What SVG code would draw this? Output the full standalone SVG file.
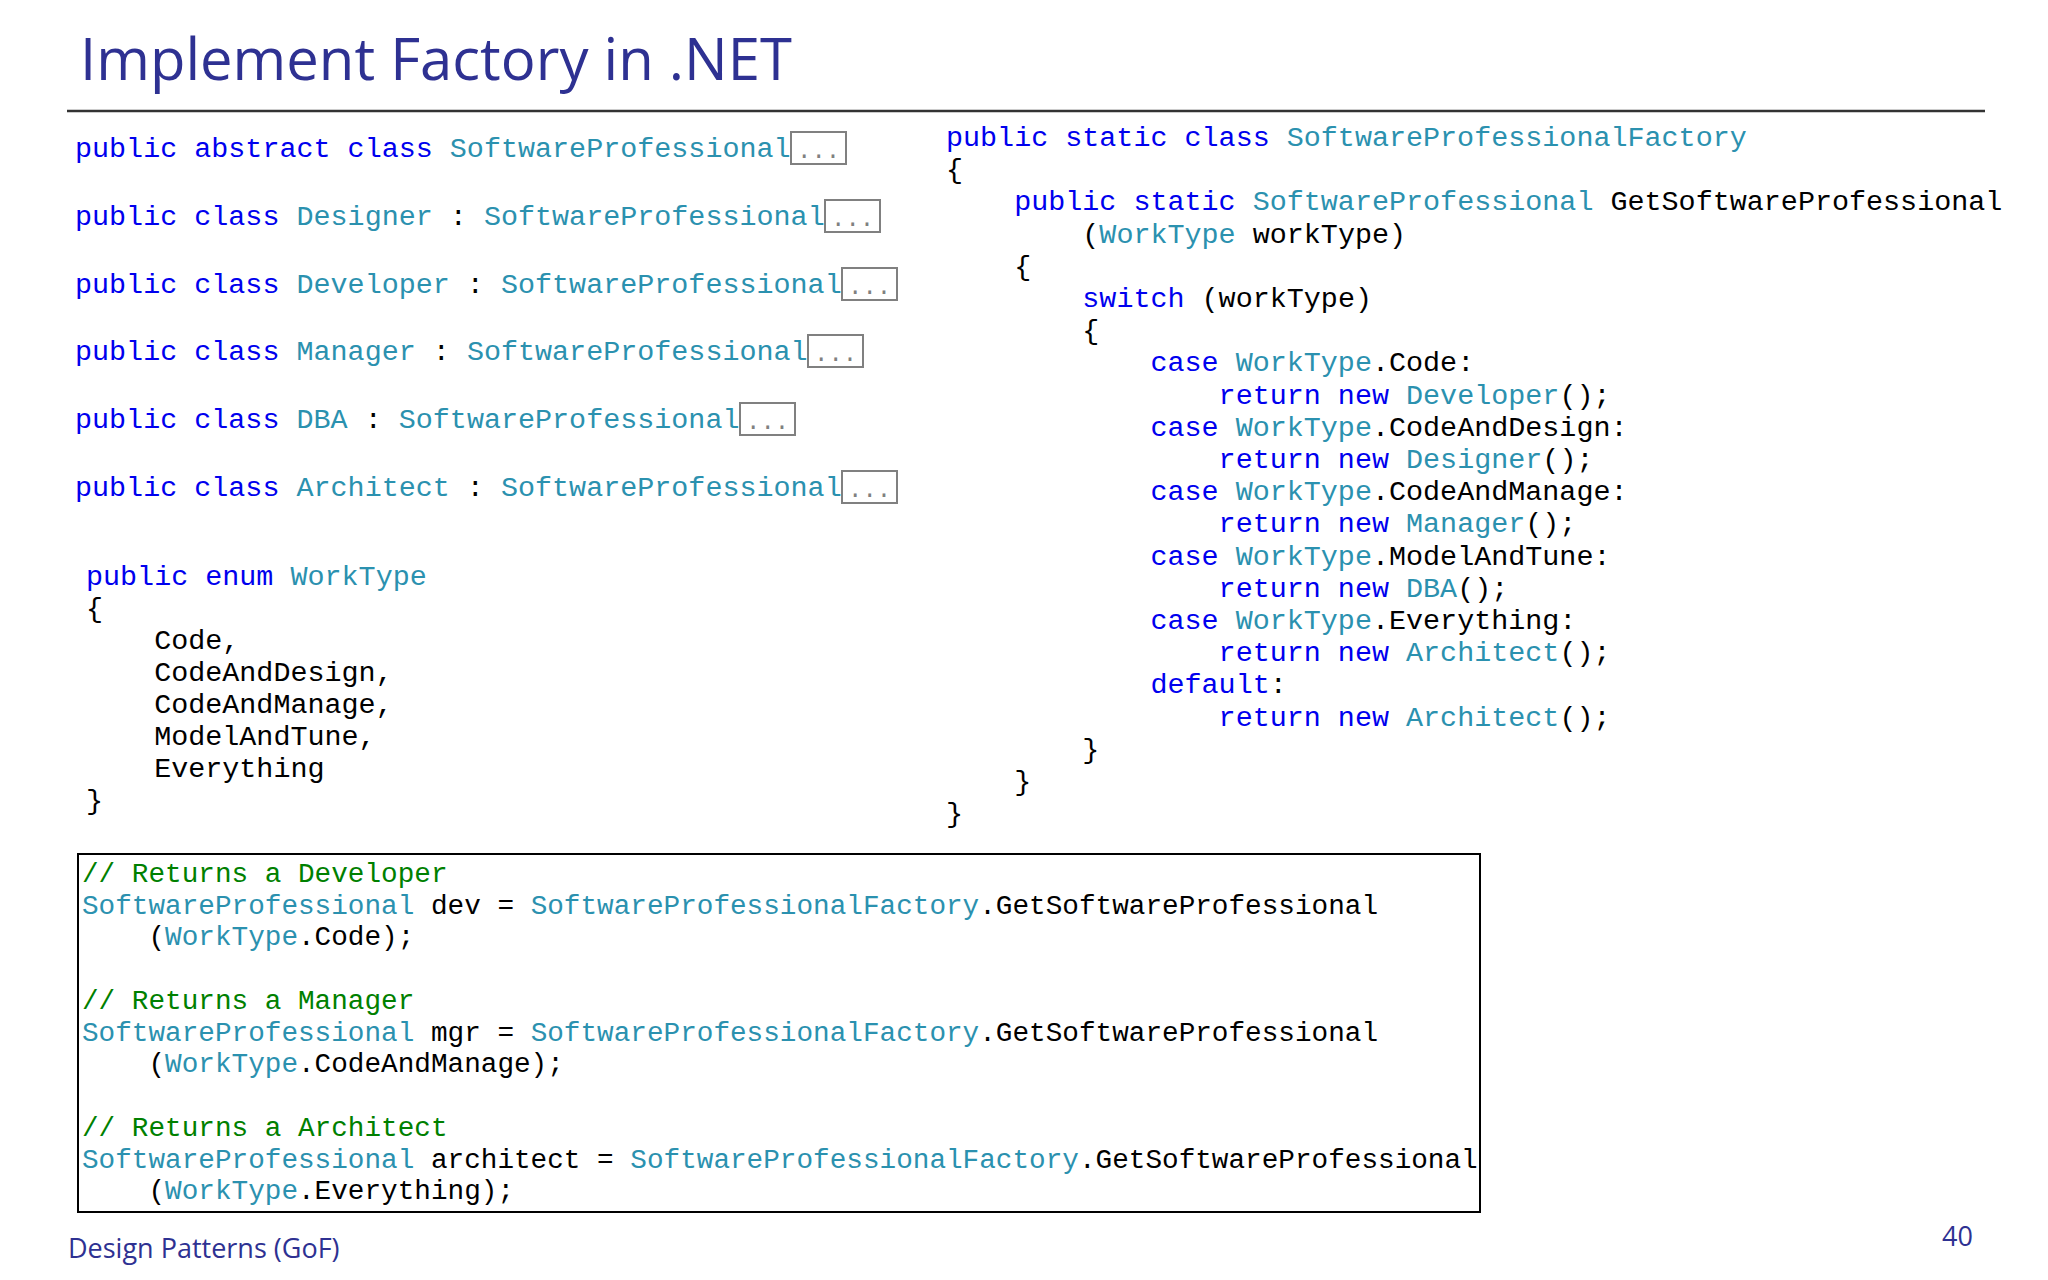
<svg xmlns="http://www.w3.org/2000/svg" width="2048" height="1280" viewBox="0 0 2048 1280" xml:space="preserve">
<style>
text{white-space:pre}
.c{font-family:"Liberation Mono","DejaVu Sans Mono",monospace;font-size:28.4px;fill:#000}
.b{font-family:"Liberation Mono","DejaVu Sans Mono",monospace;font-size:27.7px;fill:#000}
.k{fill:#0000ee}.t{fill:#2b91af}.g{fill:#008000}
.dots{fill:#fff;stroke:#808080;stroke-width:2}
.dt{font-family:"Liberation Mono",monospace;font-size:24px;fill:#808080}
</style>
<rect width="2048" height="1280" fill="#fff"/>
<g id="title">
<text x="80" y="80" font-family="Open Sans, 'Noto Sans', sans-serif" font-size="58" fill="#2e3192">Implement Factory in .NET</text>
<line x1="67" y1="111" x2="1985" y2="111" stroke="#333" stroke-width="2.5"/>
</g>
<g id="classes">
<text class="c" x="75" y="157"><tspan class="k">public abstract class </tspan><tspan class="t">SoftwareProfessional</tspan></text>
<rect class="dots" x="791" y="132" width="55" height="32"/><text class="dt" x="797" y="158">...</text>
<text class="c" x="75" y="225"><tspan class="k">public class </tspan><tspan class="t">Designer</tspan> : <tspan class="t">SoftwareProfessional</tspan></text>
<rect class="dots" x="825" y="200" width="55" height="32"/><text class="dt" x="831" y="226">...</text>
<text class="c" x="75" y="293"><tspan class="k">public class </tspan><tspan class="t">Developer</tspan> : <tspan class="t">SoftwareProfessional</tspan></text>
<rect class="dots" x="842" y="268" width="55" height="32"/><text class="dt" x="848" y="294">...</text>
<text class="c" x="75" y="360"><tspan class="k">public class </tspan><tspan class="t">Manager</tspan> : <tspan class="t">SoftwareProfessional</tspan></text>
<rect class="dots" x="808" y="335" width="55" height="32"/><text class="dt" x="814" y="361">...</text>
<text class="c" x="75" y="428"><tspan class="k">public class </tspan><tspan class="t">DBA</tspan> : <tspan class="t">SoftwareProfessional</tspan></text>
<rect class="dots" x="740" y="403" width="55" height="32"/><text class="dt" x="746" y="429">...</text>
<text class="c" x="75" y="496"><tspan class="k">public class </tspan><tspan class="t">Architect</tspan> : <tspan class="t">SoftwareProfessional</tspan></text>
<rect class="dots" x="842" y="471" width="55" height="32"/><text class="dt" x="848" y="497">...</text>
</g>
<g id="enum">
<text class="c" x="86" y="585"><tspan class="k">public enum </tspan><tspan class="t">WorkType</tspan></text>
<text class="c" x="86" y="617">{</text>
<text class="c" x="86" y="649">    Code,</text>
<text class="c" x="86" y="681">    CodeAndDesign,</text>
<text class="c" x="86" y="713">    CodeAndManage,</text>
<text class="c" x="86" y="745">    ModelAndTune,</text>
<text class="c" x="86" y="777">    Everything</text>
<text class="c" x="86" y="809">}</text>
</g>
<g id="factory">
<text class="c" x="946" y="146"><tspan class="k">public static class </tspan><tspan class="t">SoftwareProfessionalFactory</tspan></text>
<text class="c" x="946" y="178">{</text>
<text class="c" x="946" y="210">    <tspan class="k">public static </tspan><tspan class="t">SoftwareProfessional</tspan> GetSoftwareProfessional</text>
<text class="c" x="946" y="243">        (<tspan class="t">WorkType</tspan> workType)</text>
<text class="c" x="946" y="275">    {</text>
<text class="c" x="946" y="307">        <tspan class="k">switch</tspan> (workType)</text>
<text class="c" x="946" y="339">        {</text>
<text class="c" x="946" y="371">            <tspan class="k">case </tspan><tspan class="t">WorkType</tspan>.Code:</text>
<text class="c" x="946" y="404">                <tspan class="k">return new </tspan><tspan class="t">Developer</tspan>();</text>
<text class="c" x="946" y="436">            <tspan class="k">case </tspan><tspan class="t">WorkType</tspan>.CodeAndDesign:</text>
<text class="c" x="946" y="468">                <tspan class="k">return new </tspan><tspan class="t">Designer</tspan>();</text>
<text class="c" x="946" y="500">            <tspan class="k">case </tspan><tspan class="t">WorkType</tspan>.CodeAndManage:</text>
<text class="c" x="946" y="532">                <tspan class="k">return new </tspan><tspan class="t">Manager</tspan>();</text>
<text class="c" x="946" y="565">            <tspan class="k">case </tspan><tspan class="t">WorkType</tspan>.ModelAndTune:</text>
<text class="c" x="946" y="597">                <tspan class="k">return new </tspan><tspan class="t">DBA</tspan>();</text>
<text class="c" x="946" y="629">            <tspan class="k">case </tspan><tspan class="t">WorkType</tspan>.Everything:</text>
<text class="c" x="946" y="661">                <tspan class="k">return new </tspan><tspan class="t">Architect</tspan>();</text>
<text class="c" x="946" y="693">            <tspan class="k">default</tspan>:</text>
<text class="c" x="946" y="726">                <tspan class="k">return new </tspan><tspan class="t">Architect</tspan>();</text>
<text class="c" x="946" y="758">        }</text>
<text class="c" x="946" y="790">    }</text>
<text class="c" x="946" y="822">}</text>
</g>
<g id="usage">
<rect x="78" y="854" width="1402" height="358" fill="none" stroke="#000" stroke-width="2"/>
<text class="b g" x="82" y="882">// Returns a Developer</text>
<text class="b" x="82" y="914"><tspan class="t">SoftwareProfessional</tspan> dev = <tspan class="t">SoftwareProfessionalFactory</tspan>.GetSoftwareProfessional</text>
<text class="b" x="82" y="945">    (<tspan class="t">WorkType</tspan>.Code);</text>
<text class="b g" x="82" y="1009">// Returns a Manager</text>
<text class="b" x="82" y="1041"><tspan class="t">SoftwareProfessional</tspan> mgr = <tspan class="t">SoftwareProfessionalFactory</tspan>.GetSoftwareProfessional</text>
<text class="b" x="82" y="1072">    (<tspan class="t">WorkType</tspan>.CodeAndManage);</text>
<text class="b g" x="82" y="1136">// Returns a Architect</text>
<text class="b" x="82" y="1168"><tspan class="t">SoftwareProfessional</tspan> architect = <tspan class="t">SoftwareProfessionalFactory</tspan>.GetSoftwareProfessional</text>
<text class="b" x="82" y="1199">    (<tspan class="t">WorkType</tspan>.Everything);</text>
</g>
<g id="footer" font-family="Open Sans, 'Noto Sans', sans-serif" fill="#2e3192">
<text x="68" y="1258" font-size="27">Design Patterns (GoF)</text>
<text x="1942" y="1246" font-size="27">40</text>
</g>
</svg>
